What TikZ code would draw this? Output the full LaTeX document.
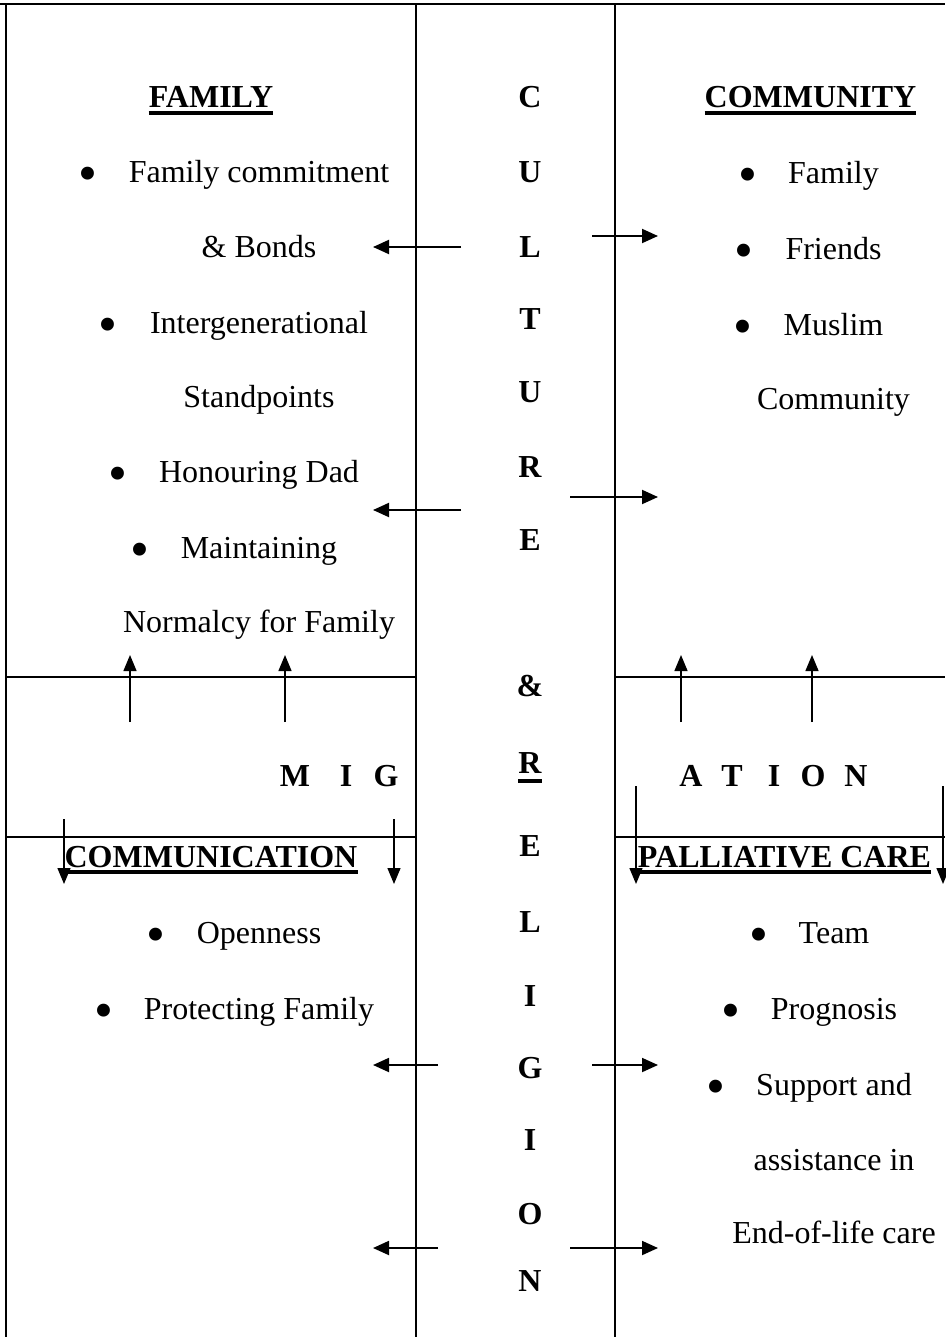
\documentclass[tikz,border=0pt]{standalone}
\usepackage{fontspec}
\setmainfont{Liberation Serif}
\usetikzlibrary{arrows.meta}
\begin{document}
\begin{tikzpicture}[x=1pt,y=-1pt,
  frame/.style={line width=2.6pt},
  harr/.style={line width=1.9pt,-{Triangle[length=16pt,width=14pt]}},
  varr/.style={line width=1.4pt,-{Triangle[length=16pt,width=13pt]}},
  txt/.style={inner sep=0pt,anchor=base,font=\fontsize{32}{38}\selectfont},
  bul/.style={inner sep=0pt,anchor=base,font=\fontsize{54}{60}\selectfont,yshift=-9pt},
  bld/.style={inner sep=0pt,anchor=base,font=\fontsize{32}{38}\selectfont\bfseries},
  ul/.style={line width=3.5pt}]
\useasboundingbox (0,0) rectangle (945,1337);
% frame
\draw[frame] (0,4) -- (945,4);
\draw[frame] (6,4) -- (6,1337);
\draw[frame] (416,4) -- (416,1337);
\draw[frame] (615,4) -- (615,1337);
\draw[frame] (6,677) -- (416,677);
\draw[frame] (615,677) -- (945,677);
\draw[frame] (6,837) -- (416,837);
\draw[frame] (615,837) -- (945,837);
% headings
\node[bld] (hfam) at (211,108) {FAMILY};
\node[bld] (hcom) at (810.5,108) {COMMUNITY};
\node[bld] (hcomm) at (211,867) {COMMUNICATION};
\node[bld] (hpal) at (784.5,867) {PALLIATIVE CARE};
\foreach \h in {hfam,hcom,hcomm,hpal}
  \draw[ul] ([yshift=-5pt]\h.base west) -- ([yshift=-5pt]\h.base east);
% middle column
\foreach \l/\y in {C/108,U/183,L/258,T/329,U/402,R/477,E/550,{\&}/696,E/856,L/932,I/1006,G/1078,I/1150,O/1224,N/1291}
  \node[bld] (m\y) at (530,\y) {\l};
\node[bld] (mR) at (530,773) {R};
\draw[line width=3.2pt] ([yshift=-8pt]mR.base west) -- ([yshift=-8pt]mR.base east);
% migration
\foreach \l/\x in {M/295,I/346,G/386,A/691,T/732,I/774,O/813,N/856}
  \node[bld] (g\x) at (\x,786) {\l};
% family list
\node[txt] (f1) at (259,183) {Family commitment};
\node[txt] (f2) at (259,258) {\& Bonds};
\node[txt] (f3) at (259,333) {Intergenerational};
\node[txt] (f4) at (259,407) {Standpoints};
\node[txt] (f5) at (259,482) {Honouring Dad};
\node[txt] (f6) at (259,558) {Maintaining};
\node[txt] (f7) at (259,632) {Normalcy for Family};
\node[bul] (fb1) at (88,183) {•};
\node[bul] (fb3) at (108,333) {•};
\node[bul] (fb5) at (118,482) {•};
\node[bul] (fb6) at (140,558) {•};
% community list
\node[txt] (c1) at (833.5,184) {Family};
\node[txt] (c2) at (833.5,260) {Friends};
\node[txt] (c3) at (833.5,335) {Muslim};
\node[txt] (c4) at (833.5,409) {Community};
\node[bul] (cb1) at (748,184) {•};
\node[bul] (cb2) at (744,260) {•};
\node[bul] (cb3) at (743,335) {•};
% communication list
\node[txt] (k1) at (259,943) {Openness};
\node[txt] (k2) at (259,1019) {Protecting Family};
\node[bul] (kb1) at (156,943) {•};
\node[bul] (kb2) at (104,1019) {•};
% palliative list
\node[txt] (p1) at (834,943) {Team};
\node[txt] (p2) at (834,1019) {Prognosis};
\node[txt] (p3) at (834,1095) {Support and};
\node[txt] (p4) at (834,1170) {assistance in};
\node[txt] (p5) at (834,1243) {End-of-life care};
\node[bul] (pb1) at (759,943) {•};
\node[bul] (pb2) at (731,1019) {•};
\node[bul] (pb3) at (716,1095) {•};
% arrow coordinates
\coordinate (l1s) at (461,247); \coordinate (l1e) at (373,247);
\coordinate (l2s) at (461,510); \coordinate (l2e) at (373,510);
\coordinate (l3s) at (438,1065); \coordinate (l3e) at (373,1065);
\coordinate (l4s) at (438,1248); \coordinate (l4e) at (373,1248);
\coordinate (r1s) at (592,236); \coordinate (r1e) at (658,236);
\coordinate (r2s) at (570,497); \coordinate (r2e) at (658,497);
\coordinate (r3s) at (592,1065); \coordinate (r3e) at (658,1065);
\coordinate (r4s) at (570,1248); \coordinate (r4e) at (658,1248);
\coordinate (u1s) at (130,722); \coordinate (u1e) at (130,655);
\coordinate (u2s) at (285,722); \coordinate (u2e) at (285,655);
\coordinate (u3s) at (681,722); \coordinate (u3e) at (681,655);
\coordinate (u4s) at (812,722); \coordinate (u4e) at (812,655);
\coordinate (d1s) at (64,819); \coordinate (d1e) at (64,884);
\coordinate (d2s) at (394,819); \coordinate (d2e) at (394,884);
\coordinate (d3s) at (636,786); \coordinate (d3e) at (636,884);
\coordinate (d4s) at (943,786); \coordinate (d4e) at (943,884);
\foreach \a in {l1,l2,l3,l4,r1,r2,r3,r4}
  \draw[harr] (\a s) -- (\a e);
\foreach \a in {u1,u2,u3,u4,d1,d2,d3,d4}
  \draw[varr] (\a s) -- (\a e);
\end{tikzpicture}
\end{document}
